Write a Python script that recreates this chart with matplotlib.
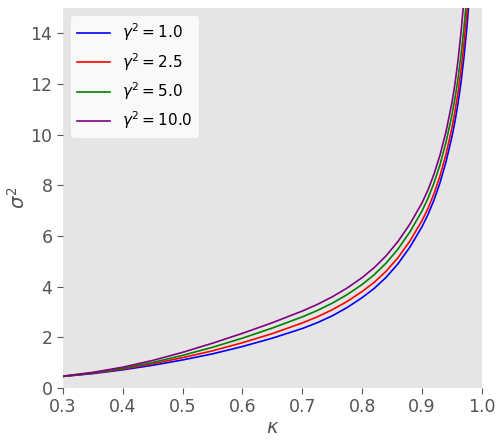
import matplotlib
matplotlib.use("Agg")
import matplotlib.pyplot as plt

# values
kappa = [0.30, 0.35, 0.40, 0.45, 0.50, 0.55, 0.60, 0.65, 0.70, 0.725, 0.75,
         0.775, 0.80, 0.82, 0.84, 0.86, 0.88, 0.90, 0.91, 0.92, 0.93, 0.94,
         0.95, 0.955, 0.96, 0.965, 0.97, 0.975, 0.98]

sigma2_g1 = [0.46, 0.57, 0.72, 0.90, 1.11, 1.35, 1.64, 1.97, 2.35, 2.58, 2.85,
             3.18, 3.57, 3.93, 4.37, 4.91, 5.57, 6.37, 6.85, 7.42, 8.10, 8.92,
             9.92, 10.52, 11.22, 12.04, 13.04, 14.24, 15.74]
sigma2_g2 = [0.46, 0.585, 0.75, 0.96, 1.20, 1.47, 1.79, 2.15, 2.57, 2.81, 3.09,
             3.42, 3.81, 4.17, 4.61, 5.15, 5.81, 6.61, 7.09, 7.67, 8.37, 9.22,
             10.27, 10.90, 11.64, 12.51, 13.56, 14.81, 16.36]
sigma2_g3 = [0.465, 0.60, 0.78, 1.01, 1.29, 1.61, 1.97, 2.37, 2.81, 3.06, 3.35,
             3.69, 4.09, 4.47, 4.93, 5.49, 6.17, 6.99, 7.49, 8.09, 8.81, 9.69,
             10.77, 11.42, 12.19, 13.10, 14.20, 15.50, 17.10]
sigma2_g4 = [0.47, 0.62, 0.825, 1.09, 1.41, 1.77, 2.16, 2.58, 3.04, 3.30, 3.60,
             3.95, 4.36, 4.75, 5.22, 5.79, 6.48, 7.31, 7.82, 8.44, 9.19, 10.11,
             11.26, 12.00, 12.90, 14.00, 15.30, 17.00, 19.00]

labels = [r"$\gamma^2 = 1.0$", r"$\gamma^2 = 2.5$", r"$\gamma^2 = 5.0$", r"$\gamma^2 = 10.0$"]
colors = ["blue", "red", "green", "purple"]

fig = plt.figure(figsize=(5.03, 4.42), dpi=100)
ax = fig.add_axes([0.125, 0.122, 0.833, 0.86])
ax.set_facecolor("#e5e5e5")

for ys, lab, c in zip([sigma2_g1, sigma2_g2, sigma2_g3, sigma2_g4], labels, colors):
    ax.plot(kappa, ys, color=c, lw=1.2, label=lab)

ax.set_xlim(0.3, 1.0)
ax.set_ylim(0, 15)
ax.set_xticks([0.3, 0.4, 0.5, 0.6, 0.7, 0.8, 0.9, 1.0])
ax.set_yticks([0, 2, 4, 6, 8, 10, 12, 14])
for s in ax.spines.values():
    s.set_visible(False)
ax.tick_params(colors="#555555", labelsize=12.5, length=4, width=0.8)
ax.set_xlabel(r"$\kappa$", fontsize=14, color="#555555", labelpad=1)
ax.set_ylabel(r"$\sigma^2$", fontsize=14, color="#555555", labelpad=1)

leg = ax.legend(loc="upper left", fontsize=11, frameon=True, handlelength=2.2)
leg.get_frame().set_edgecolor("none")
leg.get_frame().set_facecolor("white")

fig.savefig("out.png", dpi=100)
